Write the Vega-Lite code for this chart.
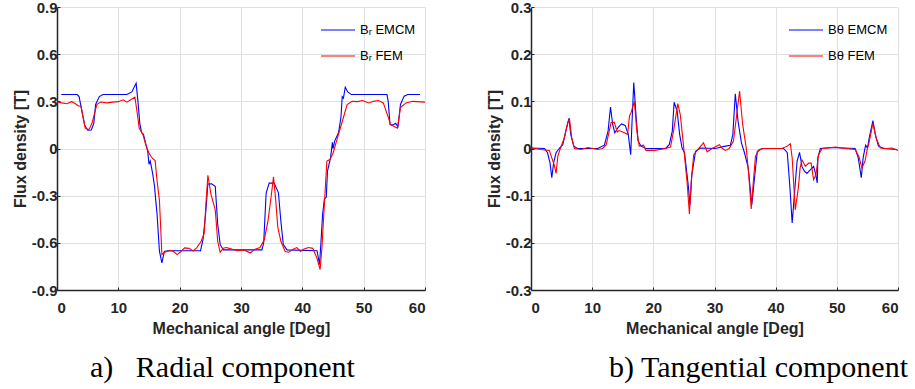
{
  "$schema": "https://vega.github.io/schema/vega-lite/v6.json",
  "background": "white",
  "padding": {"left": 12, "top": 0, "right": 5, "bottom": 5},
  "config": {
    "view": {"stroke": null},
    "axis": {"labelFont": "Liberation Sans", "labelFontWeight": "bold", "labelFontSize": 15, "labelColor": "#262626", "titleFont": "Liberation Sans", "titleFontWeight": "bold", "titleFontSize": 16, "titleColor": "#262626", "domainColor": "#262626", "domainWidth": 1.5, "gridColor": "#e0e0e0", "gridWidth": 1, "ticks": true, "tickSize": -3, "tickColor": "#262626", "tickWidth": 1},
    "legend": {"labelFont": "Liberation Sans", "labelFontSize": 13, "labelColor": "#000000", "symbolType": "stroke", "symbolSize": 1156, "symbolStrokeWidth": 1.2, "labelOffset": 4, "padding": 0, "rowPadding": 1, "orient": "none", "title": null},
    "title": {"font": "Liberation Serif", "fontSize": 30, "fontWeight": "normal", "color": "#000000"}
  },
  "datasets": {
    "radial": [
      {"a":0.7,"b":0.343,"s":"Bᵣ EMCM"},{"a":3.3,"b":0.343,"s":"Bᵣ EMCM"},{"a":3.6,"b":0.33,"s":"Bᵣ EMCM"},{"a":4.0,"b":0.25,"s":"Bᵣ EMCM"},{"a":4.5,"b":0.15,"s":"Bᵣ EMCM"},{"a":5.0,"b":0.116,"s":"Bᵣ EMCM"},{"a":5.6,"b":0.118,"s":"Bᵣ EMCM"},{"a":6.0,"b":0.16,"s":"Bᵣ EMCM"},{"a":6.3,"b":0.28,"s":"Bᵣ EMCM"},{"a":6.9,"b":0.33,"s":"Bᵣ EMCM"},{"a":7.5,"b":0.343,"s":"Bᵣ EMCM"},{"a":11.4,"b":0.343,"s":"Bᵣ EMCM"},{"a":12.2,"b":0.36,"s":"Bᵣ EMCM"},{"a":12.9,"b":0.415,"s":"Bᵣ EMCM"},{"a":13.2,"b":0.3,"s":"Bᵣ EMCM"},{"a":13.5,"b":0.16,"s":"Bᵣ EMCM"},{"a":13.8,"b":0.1,"s":"Bᵣ EMCM"},{"a":14.1,"b":0.09,"s":"Bᵣ EMCM"},{"a":14.4,"b":0.04,"s":"Bᵣ EMCM"},{"a":14.8,"b":-0.02,"s":"Bᵣ EMCM"},{"a":15.0,"b":-0.1,"s":"Bᵣ EMCM"},{"a":15.2,"b":-0.08,"s":"Bᵣ EMCM"},{"a":15.6,"b":-0.16,"s":"Bᵣ EMCM"},{"a":15.9,"b":-0.24,"s":"Bᵣ EMCM"},{"a":16.1,"b":-0.33,"s":"Bᵣ EMCM"},{"a":16.3,"b":-0.41,"s":"Bᵣ EMCM"},{"a":16.7,"b":-0.653,"s":"Bᵣ EMCM"},{"a":17.1,"b":-0.727,"s":"Bᵣ EMCM"},{"a":17.5,"b":-0.655,"s":"Bᵣ EMCM"},{"a":18.0,"b":-0.65,"s":"Bᵣ EMCM"},{"a":23.4,"b":-0.65,"s":"Bᵣ EMCM"},{"a":23.8,"b":-0.58,"s":"Bᵣ EMCM"},{"a":24.2,"b":-0.43,"s":"Bᵣ EMCM"},{"a":24.6,"b":-0.226,"s":"Bᵣ EMCM"},{"a":25.2,"b":-0.225,"s":"Bᵣ EMCM"},{"a":25.8,"b":-0.24,"s":"Bᵣ EMCM"},{"a":26.2,"b":-0.48,"s":"Bᵣ EMCM"},{"a":26.6,"b":-0.61,"s":"Bᵣ EMCM"},{"a":27.1,"b":-0.645,"s":"Bᵣ EMCM"},{"a":33.4,"b":-0.645,"s":"Bᵣ EMCM"},{"a":33.7,"b":-0.6,"s":"Bᵣ EMCM"},{"a":34.1,"b":-0.283,"s":"Bᵣ EMCM"},{"a":34.6,"b":-0.22,"s":"Bᵣ EMCM"},{"a":35.4,"b":-0.22,"s":"Bᵣ EMCM"},{"a":36.1,"b":-0.28,"s":"Bᵣ EMCM"},{"a":36.5,"b":-0.463,"s":"Bᵣ EMCM"},{"a":36.9,"b":-0.611,"s":"Bᵣ EMCM"},{"a":37.5,"b":-0.645,"s":"Bᵣ EMCM"},{"a":42.4,"b":-0.65,"s":"Bᵣ EMCM"},{"a":42.8,"b":-0.738,"s":"Bᵣ EMCM"},{"a":43.0,"b":-0.62,"s":"Bᵣ EMCM"},{"a":43.3,"b":-0.42,"s":"Bᵣ EMCM"},{"a":43.6,"b":-0.32,"s":"Bᵣ EMCM"},{"a":43.9,"b":-0.31,"s":"Bᵣ EMCM"},{"a":44.1,"b":-0.144,"s":"Bᵣ EMCM"},{"a":44.6,"b":-0.06,"s":"Bᵣ EMCM"},{"a":44.9,"b":0.04,"s":"Bᵣ EMCM"},{"a":45.0,"b":0.0,"s":"Bᵣ EMCM"},{"a":45.3,"b":0.05,"s":"Bᵣ EMCM"},{"a":45.9,"b":0.1,"s":"Bᵣ EMCM"},{"a":46.3,"b":0.2,"s":"Bᵣ EMCM"},{"a":46.5,"b":0.33,"s":"Bᵣ EMCM"},{"a":46.7,"b":0.32,"s":"Bᵣ EMCM"},{"a":47.0,"b":0.39,"s":"Bᵣ EMCM"},{"a":47.4,"b":0.36,"s":"Bᵣ EMCM"},{"a":48.0,"b":0.343,"s":"Bᵣ EMCM"},{"a":53.8,"b":0.343,"s":"Bᵣ EMCM"},{"a":54.0,"b":0.3,"s":"Bᵣ EMCM"},{"a":54.3,"b":0.152,"s":"Bᵣ EMCM"},{"a":54.8,"b":0.15,"s":"Bᵣ EMCM"},{"a":55.2,"b":0.16,"s":"Bᵣ EMCM"},{"a":55.6,"b":0.14,"s":"Bᵣ EMCM"},{"a":56.0,"b":0.28,"s":"Bᵣ EMCM"},{"a":56.6,"b":0.333,"s":"Bᵣ EMCM"},{"a":57.2,"b":0.343,"s":"Bᵣ EMCM"},{"a":59.2,"b":0.343,"s":"Bᵣ EMCM"},
      {"a":0,"b":0.296,"s":"Bᵣ FEM"},{"a":0.8,"b":0.29,"s":"Bᵣ FEM"},{"a":1.6,"b":0.285,"s":"Bᵣ FEM"},{"a":2.4,"b":0.298,"s":"Bᵣ FEM"},{"a":3.0,"b":0.285,"s":"Bᵣ FEM"},{"a":3.5,"b":0.27,"s":"Bᵣ FEM"},{"a":3.9,"b":0.27,"s":"Bᵣ FEM"},{"a":4.6,"b":0.13,"s":"Bᵣ FEM"},{"a":5.2,"b":0.12,"s":"Bᵣ FEM"},{"a":5.7,"b":0.16,"s":"Bᵣ FEM"},{"a":6.5,"b":0.28,"s":"Bᵣ FEM"},{"a":7.1,"b":0.296,"s":"Bᵣ FEM"},{"a":8.2,"b":0.29,"s":"Bᵣ FEM"},{"a":9.0,"b":0.295,"s":"Bᵣ FEM"},{"a":10.0,"b":0.298,"s":"Bᵣ FEM"},{"a":10.8,"b":0.31,"s":"Bᵣ FEM"},{"a":11.4,"b":0.295,"s":"Bᵣ FEM"},{"a":12.0,"b":0.31,"s":"Bᵣ FEM"},{"a":12.7,"b":0.326,"s":"Bᵣ FEM"},{"a":13.1,"b":0.22,"s":"Bᵣ FEM"},{"a":13.4,"b":0.13,"s":"Bᵣ FEM"},{"a":14.0,"b":0.09,"s":"Bᵣ FEM"},{"a":14.5,"b":0.02,"s":"Bᵣ FEM"},{"a":15.0,"b":-0.03,"s":"Bᵣ FEM"},{"a":15.5,"b":-0.06,"s":"Bᵣ FEM"},{"a":16.0,"b":-0.077,"s":"Bᵣ FEM"},{"a":16.3,"b":-0.2,"s":"Bᵣ FEM"},{"a":16.7,"b":-0.33,"s":"Bᵣ FEM"},{"a":16.9,"b":-0.5,"s":"Bᵣ FEM"},{"a":17.1,"b":-0.675,"s":"Bᵣ FEM"},{"a":17.5,"b":-0.66,"s":"Bᵣ FEM"},{"a":18.0,"b":-0.655,"s":"Bᵣ FEM"},{"a":18.5,"b":-0.648,"s":"Bᵣ FEM"},{"a":19.0,"b":-0.655,"s":"Bᵣ FEM"},{"a":19.6,"b":-0.675,"s":"Bᵣ FEM"},{"a":20.2,"b":-0.655,"s":"Bᵣ FEM"},{"a":20.8,"b":-0.632,"s":"Bᵣ FEM"},{"a":21.5,"b":-0.635,"s":"Bᵣ FEM"},{"a":22.2,"b":-0.652,"s":"Bᵣ FEM"},{"a":22.8,"b":-0.63,"s":"Bᵣ FEM"},{"a":23.5,"b":-0.59,"s":"Bᵣ FEM"},{"a":24.0,"b":-0.54,"s":"Bᵣ FEM"},{"a":24.3,"b":-0.34,"s":"Bᵣ FEM"},{"a":24.6,"b":-0.17,"s":"Bᵣ FEM"},{"a":25.1,"b":-0.29,"s":"Bᵣ FEM"},{"a":25.8,"b":-0.39,"s":"Bᵣ FEM"},{"a":26.2,"b":-0.59,"s":"Bᵣ FEM"},{"a":26.6,"b":-0.66,"s":"Bᵣ FEM"},{"a":27.1,"b":-0.635,"s":"Bᵣ FEM"},{"a":27.6,"b":-0.63,"s":"Bᵣ FEM"},{"a":28.5,"b":-0.64,"s":"Bᵣ FEM"},{"a":29.5,"b":-0.65,"s":"Bᵣ FEM"},{"a":30.5,"b":-0.645,"s":"Bᵣ FEM"},{"a":31.5,"b":-0.665,"s":"Bᵣ FEM"},{"a":32.3,"b":-0.64,"s":"Bᵣ FEM"},{"a":33.1,"b":-0.63,"s":"Bᵣ FEM"},{"a":33.8,"b":-0.58,"s":"Bᵣ FEM"},{"a":34.4,"b":-0.46,"s":"Bᵣ FEM"},{"a":34.9,"b":-0.31,"s":"Bᵣ FEM"},{"a":35.3,"b":-0.18,"s":"Bᵣ FEM"},{"a":35.6,"b":-0.3,"s":"Bᵣ FEM"},{"a":36.0,"b":-0.5,"s":"Bᵣ FEM"},{"a":36.5,"b":-0.59,"s":"Bᵣ FEM"},{"a":37.2,"b":-0.655,"s":"Bᵣ FEM"},{"a":37.8,"b":-0.66,"s":"Bᵣ FEM"},{"a":38.5,"b":-0.64,"s":"Bᵣ FEM"},{"a":39.1,"b":-0.63,"s":"Bᵣ FEM"},{"a":39.7,"b":-0.655,"s":"Bᵣ FEM"},{"a":40.2,"b":-0.64,"s":"Bᵣ FEM"},{"a":41.0,"b":-0.63,"s":"Bᵣ FEM"},{"a":41.7,"b":-0.635,"s":"Bᵣ FEM"},{"a":42.4,"b":-0.7,"s":"Bᵣ FEM"},{"a":42.9,"b":-0.77,"s":"Bᵣ FEM"},{"a":43.2,"b":-0.63,"s":"Bᵣ FEM"},{"a":43.5,"b":-0.42,"s":"Bᵣ FEM"},{"a":44.0,"b":-0.08,"s":"Bᵣ FEM"},{"a":44.5,"b":-0.07,"s":"Bᵣ FEM"},{"a":45.0,"b":-0.03,"s":"Bᵣ FEM"},{"a":45.6,"b":0.05,"s":"Bᵣ FEM"},{"a":46.5,"b":0.17,"s":"Bᵣ FEM"},{"a":47.3,"b":0.28,"s":"Bᵣ FEM"},{"a":48.1,"b":0.3,"s":"Bᵣ FEM"},{"a":49.0,"b":0.298,"s":"Bᵣ FEM"},{"a":49.8,"b":0.305,"s":"Bᵣ FEM"},{"a":50.8,"b":0.29,"s":"Bᵣ FEM"},{"a":51.6,"b":0.3,"s":"Bᵣ FEM"},{"a":52.4,"b":0.305,"s":"Bᵣ FEM"},{"a":53.2,"b":0.29,"s":"Bᵣ FEM"},{"a":54.0,"b":0.2,"s":"Bᵣ FEM"},{"a":54.4,"b":0.15,"s":"Bᵣ FEM"},{"a":55.0,"b":0.14,"s":"Bᵣ FEM"},{"a":55.5,"b":0.13,"s":"Bᵣ FEM"},{"a":56.0,"b":0.26,"s":"Bᵣ FEM"},{"a":56.9,"b":0.29,"s":"Bᵣ FEM"},{"a":58.0,"b":0.3,"s":"Bᵣ FEM"},{"a":60,"b":0.295,"s":"Bᵣ FEM"}
    ],
    "tangential": [
      {"a":0,"b":0.001,"s":"Bθ EMCM"},{"a":2.2,"b":0,"s":"Bθ EMCM"},{"a":2.7,"b":-0.009,"s":"Bθ EMCM"},{"a":3.1,"b":-0.03,"s":"Bθ EMCM"},{"a":3.4,"b":-0.062,"s":"Bθ EMCM"},{"a":3.7,"b":-0.03,"s":"Bθ EMCM"},{"a":4.1,"b":-0.009,"s":"Bθ EMCM"},{"a":4.6,"b":0,"s":"Bθ EMCM"},{"a":5.2,"b":0.008,"s":"Bθ EMCM"},{"a":5.7,"b":0.037,"s":"Bθ EMCM"},{"a":6.2,"b":0.064,"s":"Bθ EMCM"},{"a":6.5,"b":0.03,"s":"Bθ EMCM"},{"a":7.0,"b":0.005,"s":"Bθ EMCM"},{"a":7.6,"b":0,"s":"Bθ EMCM"},{"a":10.9,"b":0,"s":"Bθ EMCM"},{"a":12.0,"b":0.007,"s":"Bθ EMCM"},{"a":12.6,"b":0.037,"s":"Bθ EMCM"},{"a":13.0,"b":0.088,"s":"Bθ EMCM"},{"a":13.35,"b":0.051,"s":"Bθ EMCM"},{"a":13.7,"b":0.033,"s":"Bθ EMCM"},{"a":14.2,"b":0.044,"s":"Bθ EMCM"},{"a":14.8,"b":0.052,"s":"Bθ EMCM"},{"a":15.4,"b":0.049,"s":"Bθ EMCM"},{"a":15.9,"b":0.03,"s":"Bθ EMCM"},{"a":16.3,"b":-0.013,"s":"Bθ EMCM"},{"a":16.5,"b":0.051,"s":"Bθ EMCM"},{"a":16.8,"b":0.14,"s":"Bθ EMCM"},{"a":17.2,"b":0.065,"s":"Bθ EMCM"},{"a":17.5,"b":0.016,"s":"Bθ EMCM"},{"a":18.0,"b":0.005,"s":"Bθ EMCM"},{"a":18.8,"b":0,"s":"Bθ EMCM"},{"a":22.0,"b":0,"s":"Bθ EMCM"},{"a":22.6,"b":0.008,"s":"Bθ EMCM"},{"a":23.1,"b":0.037,"s":"Bθ EMCM"},{"a":23.4,"b":0.098,"s":"Bθ EMCM"},{"a":23.9,"b":0.079,"s":"Bθ EMCM"},{"a":24.3,"b":0.03,"s":"Bθ EMCM"},{"a":24.7,"b":0.001,"s":"Bθ EMCM"},{"a":25.1,"b":-0.009,"s":"Bθ EMCM"},{"a":25.7,"b":-0.077,"s":"Bθ EMCM"},{"a":26.0,"b":-0.119,"s":"Bθ EMCM"},{"a":26.3,"b":-0.055,"s":"Bθ EMCM"},{"a":26.9,"b":-0.006,"s":"Bθ EMCM"},{"a":27.7,"b":0.001,"s":"Bθ EMCM"},{"a":30.1,"b":0,"s":"Bθ EMCM"},{"a":31.8,"b":0.005,"s":"Bθ EMCM"},{"a":32.6,"b":0.007,"s":"Bθ EMCM"},{"a":33.0,"b":0.03,"s":"Bθ EMCM"},{"a":33.4,"b":0.116,"s":"Bθ EMCM"},{"a":33.85,"b":0.058,"s":"Bθ EMCM"},{"a":34.4,"b":0.012,"s":"Bθ EMCM"},{"a":34.9,"b":-0.009,"s":"Bθ EMCM"},{"a":35.5,"b":-0.04,"s":"Bθ EMCM"},{"a":36.1,"b":-0.119,"s":"Bθ EMCM"},{"a":36.6,"b":-0.055,"s":"Bθ EMCM"},{"a":37.0,"b":-0.006,"s":"Bθ EMCM"},{"a":37.8,"b":0,"s":"Bθ EMCM"},{"a":41.3,"b":0,"s":"Bθ EMCM"},{"a":41.9,"b":-0.009,"s":"Bθ EMCM"},{"a":42.3,"b":-0.077,"s":"Bθ EMCM"},{"a":42.7,"b":-0.158,"s":"Bθ EMCM"},{"a":43.1,"b":-0.091,"s":"Bθ EMCM"},{"a":43.5,"b":-0.027,"s":"Bθ EMCM"},{"a":43.9,"b":-0.008,"s":"Bθ EMCM"},{"a":44.3,"b":-0.038,"s":"Bθ EMCM"},{"a":44.7,"b":-0.048,"s":"Bθ EMCM"},{"a":45.1,"b":-0.053,"s":"Bθ EMCM"},{"a":45.7,"b":-0.045,"s":"Bθ EMCM"},{"a":46.2,"b":-0.038,"s":"Bθ EMCM"},{"a":46.5,"b":-0.052,"s":"Bθ EMCM"},{"a":46.8,"b":-0.073,"s":"Bθ EMCM"},{"a":46.9,"b":-0.02,"s":"Bθ EMCM"},{"a":47.3,"b":0,"s":"Bθ EMCM"},{"a":49.2,"b":0.002,"s":"Bθ EMCM"},{"a":53.0,"b":0,"s":"Bθ EMCM"},{"a":53.5,"b":-0.02,"s":"Bθ EMCM"},{"a":54.0,"b":-0.062,"s":"Bθ EMCM"},{"a":54.3,"b":-0.02,"s":"Bθ EMCM"},{"a":54.7,"b":0.007,"s":"Bθ EMCM"},{"a":55.0,"b":0.001,"s":"Bθ EMCM"},{"a":55.3,"b":0.023,"s":"Bθ EMCM"},{"a":55.9,"b":0.059,"s":"Bθ EMCM"},{"a":56.3,"b":0.03,"s":"Bθ EMCM"},{"a":56.8,"b":0.005,"s":"Bθ EMCM"},{"a":57.7,"b":0,"s":"Bθ EMCM"},{"a":59.8,"b":-0.002,"s":"Bθ EMCM"},
      {"a":0,"b":0.001,"s":"Bθ FEM"},{"a":1.6,"b":-0.002,"s":"Bθ FEM"},{"a":3.0,"b":-0.004,"s":"Bθ FEM"},{"a":3.4,"b":-0.02,"s":"Bθ FEM"},{"a":3.8,"b":-0.035,"s":"Bθ FEM"},{"a":4.1,"b":-0.053,"s":"Bθ FEM"},{"a":4.4,"b":-0.015,"s":"Bθ FEM"},{"a":4.8,"b":0,"s":"Bθ FEM"},{"a":5.45,"b":0.023,"s":"Bθ FEM"},{"a":6.0,"b":0.055,"s":"Bθ FEM"},{"a":6.3,"b":0.062,"s":"Bθ FEM"},{"a":6.65,"b":0.023,"s":"Bθ FEM"},{"a":7.1,"b":0,"s":"Bθ FEM"},{"a":8.2,"b":-0.002,"s":"Bθ FEM"},{"a":9.3,"b":0.002,"s":"Bθ FEM"},{"a":10.9,"b":-0.002,"s":"Bθ FEM"},{"a":11.7,"b":0,"s":"Bθ FEM"},{"a":12.3,"b":0.008,"s":"Bθ FEM"},{"a":13.1,"b":0.055,"s":"Bθ FEM"},{"a":13.6,"b":0.056,"s":"Bθ FEM"},{"a":14.1,"b":0.035,"s":"Bθ FEM"},{"a":14.4,"b":0.038,"s":"Bθ FEM"},{"a":15.0,"b":0.035,"s":"Bθ FEM"},{"a":15.8,"b":0.03,"s":"Bθ FEM"},{"a":16.1,"b":0.069,"s":"Bθ FEM"},{"a":16.35,"b":0.076,"s":"Bθ FEM"},{"a":16.9,"b":0.1,"s":"Bθ FEM"},{"a":17.3,"b":0.037,"s":"Bθ FEM"},{"a":17.7,"b":0.005,"s":"Bθ FEM"},{"a":18.4,"b":0.007,"s":"Bθ FEM"},{"a":18.8,"b":-0.004,"s":"Bθ FEM"},{"a":20.2,"b":-0.004,"s":"Bθ FEM"},{"a":22.0,"b":0,"s":"Bθ FEM"},{"a":22.8,"b":0.003,"s":"Bθ FEM"},{"a":23.3,"b":0.037,"s":"Bθ FEM"},{"a":24.0,"b":0.095,"s":"Bθ FEM"},{"a":24.4,"b":0.072,"s":"Bθ FEM"},{"a":24.8,"b":0.023,"s":"Bθ FEM"},{"a":25.1,"b":-0.016,"s":"Bθ FEM"},{"a":25.5,"b":-0.069,"s":"Bθ FEM"},{"a":25.9,"b":-0.139,"s":"Bθ FEM"},{"a":26.2,"b":-0.069,"s":"Bθ FEM"},{"a":26.6,"b":-0.013,"s":"Bθ FEM"},{"a":27.3,"b":-0.002,"s":"Bθ FEM"},{"a":28.2,"b":0.012,"s":"Bθ FEM"},{"a":28.8,"b":-0.007,"s":"Bθ FEM"},{"a":29.6,"b":0,"s":"Bθ FEM"},{"a":30.8,"b":0.008,"s":"Bθ FEM"},{"a":31.3,"b":0,"s":"Bθ FEM"},{"a":31.8,"b":-0.004,"s":"Bθ FEM"},{"a":32.4,"b":0,"s":"Bθ FEM"},{"a":33.1,"b":0.016,"s":"Bθ FEM"},{"a":33.7,"b":0.079,"s":"Bθ FEM"},{"a":34.1,"b":0.122,"s":"Bθ FEM"},{"a":34.6,"b":0.051,"s":"Bθ FEM"},{"a":35.2,"b":0,"s":"Bθ FEM"},{"a":35.6,"b":-0.055,"s":"Bθ FEM"},{"a":36.0,"b":-0.128,"s":"Bθ FEM"},{"a":36.4,"b":-0.062,"s":"Bθ FEM"},{"a":36.7,"b":-0.016,"s":"Bθ FEM"},{"a":37.3,"b":-0.002,"s":"Bθ FEM"},{"a":38.0,"b":0,"s":"Bθ FEM"},{"a":41.0,"b":0,"s":"Bθ FEM"},{"a":41.9,"b":0.005,"s":"Bθ FEM"},{"a":42.4,"b":0.01,"s":"Bθ FEM"},{"a":42.7,"b":-0.02,"s":"Bθ FEM"},{"a":43.2,"b":-0.13,"s":"Bθ FEM"},{"a":43.7,"b":-0.084,"s":"Bθ FEM"},{"a":44.0,"b":-0.041,"s":"Bθ FEM"},{"a":44.3,"b":-0.024,"s":"Bθ FEM"},{"a":44.85,"b":-0.038,"s":"Bθ FEM"},{"a":45.4,"b":-0.031,"s":"Bθ FEM"},{"a":45.8,"b":-0.031,"s":"Bθ FEM"},{"a":46.2,"b":-0.066,"s":"Bθ FEM"},{"a":46.6,"b":-0.055,"s":"Bθ FEM"},{"a":47.0,"b":-0.013,"s":"Bθ FEM"},{"a":47.6,"b":0,"s":"Bθ FEM"},{"a":49.8,"b":0.003,"s":"Bθ FEM"},{"a":51.4,"b":0,"s":"Bθ FEM"},{"a":53.0,"b":-0.002,"s":"Bθ FEM"},{"a":53.6,"b":-0.017,"s":"Bθ FEM"},{"a":54.1,"b":-0.041,"s":"Bθ FEM"},{"a":54.6,"b":-0.027,"s":"Bθ FEM"},{"a":55.0,"b":0,"s":"Bθ FEM"},{"a":55.2,"b":0.008,"s":"Bθ FEM"},{"a":55.9,"b":0.054,"s":"Bθ FEM"},{"a":56.4,"b":0.023,"s":"Bθ FEM"},{"a":57.1,"b":0.001,"s":"Bθ FEM"},{"a":58.2,"b":0,"s":"Bθ FEM"},{"a":59.0,"b":0.001,"s":"Bθ FEM"},{"a":60,"b":-0.004,"s":"Bθ FEM"}
    ]
  },
  "spacing": 106,
  "bounds": "flush",
  "resolve": {"scale": {"color": "independent", "y": "independent"}, "legend": {"color": "independent"}},
  "hconcat": [
    {
      "width": 368,
      "height": 283,
      "title": {"text": "a)\u00a0\u00a0\u00a0Radial component", "orient": "bottom", "anchor": "start", "frame": "group", "dx": 33, "offset": 17},
      "data": {"name": "radial"},
      "mark": {"type": "line", "strokeWidth": 1.1, "clip": true},
      "encoding": {
        "x": {"field": "a", "type": "quantitative", "scale": {"domain": [0, 60], "nice": false}, "axis": {"values": [0, 10, 20, 30, 40, 50, 60], "title": "Mechanical angle [Deg]", "labelPadding": 13, "titlePadding": 5}},
        "y": {"field": "b", "type": "quantitative", "scale": {"domain": [-0.9, 0.9], "nice": false}, "axis": {"values": [-0.9, -0.6, -0.3, 0, 0.3, 0.6, 0.9], "labelExpr": "datum.value < 0 ? '-' + format(-datum.value, '.1f') : (datum.value == 0 ? '0' : format(datum.value, '.1f'))", "title": "Flux density [T]", "labelPadding": 3, "titlePadding": 3}},
        "color": {"field": "s", "type": "nominal", "scale": {"domain": ["Bᵣ EMCM", "Bᵣ FEM"], "range": ["#0000ff", "#ff0000"]}, "legend": {"legendX": 263, "legendY": 5}}
      }
    },
    {
      "width": 367,
      "height": 283,
      "title": {"text": "b) Tangential component", "orient": "bottom", "anchor": "end", "frame": "group", "dx": 10, "offset": 17},
      "data": {"name": "tangential"},
      "mark": {"type": "line", "strokeWidth": 1.1, "clip": true},
      "encoding": {
        "x": {"field": "a", "type": "quantitative", "scale": {"domain": [0, 60], "nice": false}, "axis": {"values": [0, 10, 20, 30, 40, 50, 60], "title": "Mechanical angle [Deg]", "labelPadding": 13, "titlePadding": 5}},
        "y": {"field": "b", "type": "quantitative", "scale": {"domain": [-0.3, 0.3], "nice": false}, "axis": {"values": [-0.3, -0.2, -0.1, 0, 0.1, 0.2, 0.3], "labelExpr": "datum.value < 0 ? '-' + format(-datum.value, '.1f') : (datum.value == 0 ? '0' : format(datum.value, '.1f'))", "title": "Flux density [T]", "labelPadding": 3, "titlePadding": 3}},
        "color": {"field": "s", "type": "nominal", "scale": {"domain": ["Bθ EMCM", "Bθ FEM"], "range": ["#0000ff", "#ff0000"]}, "legend": {"legendX": 257, "legendY": 5}}
      }
    }
  ]
}
